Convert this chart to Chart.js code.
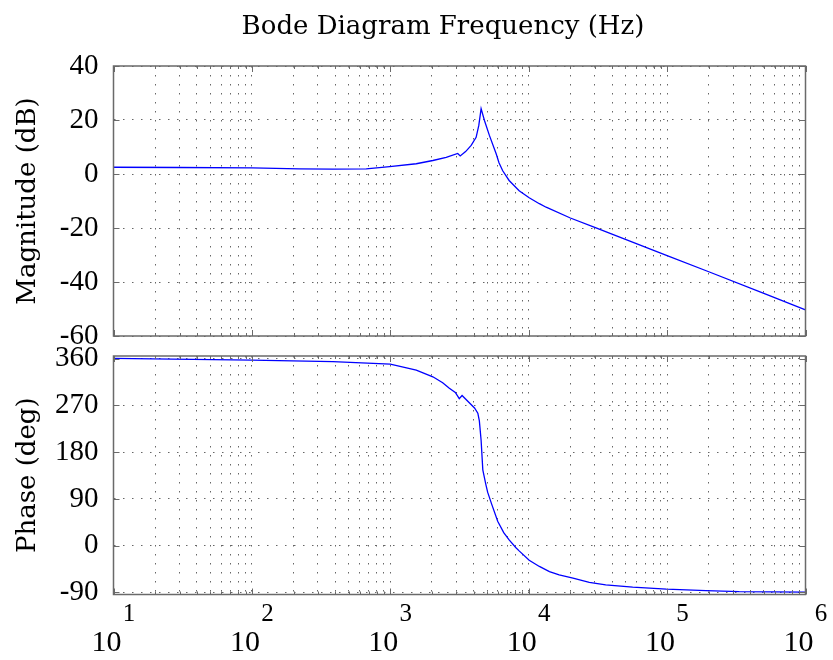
<!DOCTYPE html>
<html>
<head>
<meta charset="utf-8">
<script src="https://cdn.jsdelivr.net/npm/chart.js@4.4.1/dist/chart.umd.min.js"></script>
<style>
  html,body{margin:0;padding:0;background:#fff;}
  #wrap{position:relative;width:833px;height:660px;}
  canvas{position:absolute;left:0;}
  #mag{top:0;}
  #phase{top:345px;}
</style>
</head>
<body>
<div id="wrap">
  <canvas id="mag" width="833" height="345" style="width:833px;height:345px"></canvas>
  <canvas id="phase" width="833" height="315" style="width:833px;height:315px"></canvas>
</div>
<script>
/* data */
const magFreq = [10, 30, 100, 220, 385, 670, 990, 1540, 2030, 2535, 3070, 3200, 3500, 3840, 4170, 4360, 4530,
  4790, 5200, 5820, 6100, 6490, 7220, 8530, 10080, 11940, 13360, 20000, 30000, 50000, 100000, 200000, 500000, 1000000];
const magDb = [2.5, 2.4, 2.3, 1.9, 1.8, 1.9, 2.7, 3.8, 5.0, 6.2, 7.6, 6.7, 8.3, 10.6, 13.6, 18, 24.2,
  19.8, 14.3, 7.5, 4.2, 1.2, -2.4, -6.2, -8.8, -11, -12.3, -16.3, -19.8, -24.2, -30.2, -36.2, -44.2, -50.3];

const phaseFreq = [10, 100, 385, 1000, 1540, 2030, 2390, 2670, 2950, 3150, 3300, 4060, 4290, 4400, 4530, 4660,
  4900, 5050, 5400, 5970, 6600, 7220, 8090, 8530, 10080, 11940, 14120, 16600, 20900, 27400, 36000, 56400,
  99000, 191000, 332000, 1000000];
const phaseDeg = [360.4, 357, 354, 349.4, 338, 325, 313.5, 303, 295, 283, 289, 265, 255, 240, 203, 146,
  118, 103, 80, 47, 25, 11, -4, -10, -28, -40, -50, -56.3, -62.7, -70.5, -75.6, -80,
  -83.8, -86.5, -88.5, -89.6];

const magTicks = [-60, -40, -20, 0, 20, 40];
const phaseTicks = [-90, 0, 90, 180, 270, 360];
const decades = [1, 2, 3, 4, 5, 6];

const NUMFONT = "'Liberation Serif', serif";
const TXTFONT = "'DejaVu Serif', serif";
const LEFT = 113.5, RIGHT_PAD = 27.5;

/* log grid: 1..9 x 10^n */
const xGrid = [];
decades.forEach(e=>{
  if(e===6){ xGrid.push(1e6); return; }
  for(let m=1;m<=9;m++) xGrid.push(m*Math.pow(10,e));
});

const pts=(xs,ys)=>xs.map((x,i)=>({x, y:ys[i]}));

/* box + inward ticks */
const frame = {
  id:"frame",
  afterDraw(chart){
    const {ctx, chartArea:a, scales} = chart;
    ctx.save();
    ctx.strokeStyle="#6a6a6a";
    ctx.lineWidth=1;
    ctx.beginPath();
    scales.x.ticks.forEach(t=>{
      const px=Math.round(scales.x.getPixelForValue(t.value))+0.5;
      const major=Math.abs(Math.log10(t.value)%1)<1e-9;
      const len=major?6:3;
      ctx.moveTo(px,a.bottom); ctx.lineTo(px,a.bottom-len);
      ctx.moveTo(px,a.top); ctx.lineTo(px,a.top+len);
    });
    scales.y.ticks.forEach(t=>{
      const py=Math.round(scales.y.getPixelForValue(t.value))+0.5;
      ctx.moveTo(a.left,py); ctx.lineTo(a.left+6,py);
      ctx.moveTo(a.right,py); ctx.lineTo(a.right-6,py);
    });
    ctx.stroke();
    ctx.lineWidth=1.5;
    ctx.strokeRect(a.left,a.top,a.right-a.left,a.bottom-a.top);
    ctx.restore();
  }
};

const titlePlugin = {
  id:"bigtitle",
  afterDraw(chart){
    const ctx=chart.ctx;
    ctx.save();
    ctx.fillStyle="#000";
    ctx.font="26px "+TXTFONT;
    ctx.textAlign="center";
    ctx.textBaseline="middle";
    ctx.fillText("Bode Diagram Frequency (Hz)", 443, 27);
    ctx.restore();
  }
};

const decadeLabels = {
  id:"decadeLabels",
  afterDraw(chart){
    const {ctx, scales} = chart;
    ctx.save();
    ctx.fillStyle="#000";
    ctx.textAlign="center";
    ctx.textBaseline="middle";
    decades.forEach(e=>{
      const px=scales.x.getPixelForValue(Math.pow(10,e));
      ctx.font="30px "+NUMFONT;
      ctx.fillText("10", px-7, 298);
      ctx.font="25px "+NUMFONT;
      ctx.fillText(String(e), px+15.5, 269);
    });
    ctx.restore();
  }
};

function makeChart(el, data, yMin, yMax, yTicks, yTitle, padTop, xHeight, plugins){
  return new Chart(el,{
    type:"line",
    data:{datasets:[{
      data,
      borderColor:"#0000ff",
      borderWidth:1.3,
      pointRadius:0,
      tension:0,
      fill:false
    }]},
    options:{
      responsive:false,
      animation:false,
      events:[],
      layout:{padding:{left:0, right:RIGHT_PAD, top:padTop, bottom:0}},
      plugins:{legend:{display:false}, tooltip:{enabled:false}, title:{display:false}},
      scales:{
        x:{
          type:"logarithmic",
          min:10, max:1e6,
          afterBuildTicks:s=>{ s.ticks=xGrid.map(v=>({value:v})); },
          afterFit:s=>{ s.height=xHeight; s.paddingLeft=0; s.paddingRight=0; },
          ticks:{display:false},
          grid:{color:"#666666", lineWidth:1, drawTicks:false},
          border:{display:false, dash:[1.5,7.5]}
        },
        y:{
          min:yMin, max:yMax,
          afterBuildTicks:s=>{ s.ticks=yTicks.map(v=>({value:v})); },
          afterFit:s=>{ s.width=LEFT; s.paddingTop=0; s.paddingBottom=0; },
          ticks:{
            color:"#000",
            padding:15,
            font:{family:NUMFONT, size:29},
            callback:v=>String(v)
          },
          title:{
            display:true,
            text:yTitle,
            color:"#000",
            font:{family:TXTFONT, size:26, lineHeight:1},
            padding:{top:15, bottom:0}
          },
          grid:{color:"#666666", lineWidth:1, drawTicks:false},
          border:{display:false, dash:[1.5,7.5]}
        }
      }
    },
    plugins
  });
}

makeChart(document.getElementById("mag"), pts(magFreq, magDb), -60, 40, magTicks,
  "Magnitude (dB)", 66, 9, [frame, titlePlugin]);
makeChart(document.getElementById("phase"), pts(phaseFreq, phaseDeg), -94, 365, phaseTicks,
  "Phase (deg)", 11, 65.5, [frame, decadeLabels]);
</script>
</body>
</html>
